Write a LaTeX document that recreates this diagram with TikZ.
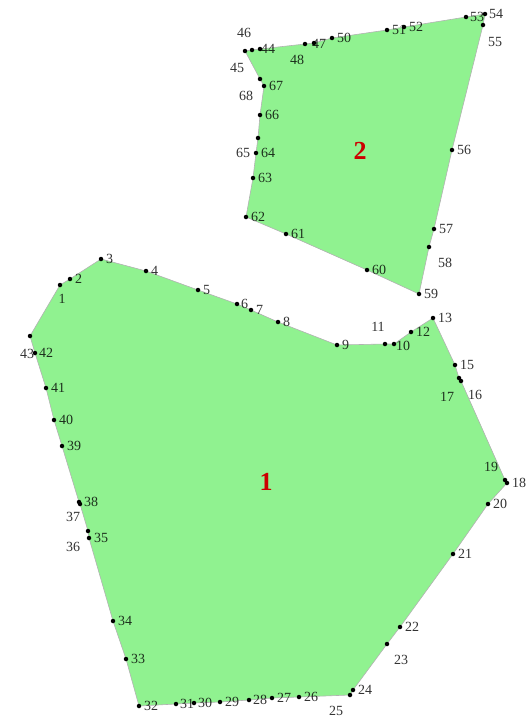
\documentclass[tikz,border=0pt]{standalone}
\usepackage{fontspec}
\setmainfont{Liberation Serif}
\usetikzlibrary{positioning,backgrounds}
\definecolor{parcel}{RGB}{144,242,144}
\definecolor{idred}{RGB}{204,0,0}

\begin{document}
\begin{tikzpicture}[x=1pt,y=-1pt,font=\fontsize{14}{16}\selectfont,
vtx/.style={circle,fill=black,inner sep=0pt,minimum size=4.5pt},
lbl/.style={inner sep=0.5pt,text=black,text opacity=0.8},
lot/.style={fill=parcel,draw=gray!60,line width=0.6pt},
lotid/.style={text=idred,font=\fontsize{26}{28}\selectfont\bfseries}]
\useasboundingbox (0,0) rectangle (531,720);
% parcel 1
\node[vtx] (p1) at (60,285) {};  \node[lbl] (t1) at (62,299) {1};
\node[vtx] (p2) at (70,279) {};  \node[lbl,right=2pt of p2] (t2) {2};
\node[vtx] (p3) at (101,259) {}; \node[lbl,right=2pt of p3] (t3) {3};
\node[vtx] (p4) at (146,271) {}; \node[lbl,right=2pt of p4] (t4) {4};
\node[vtx] (p5) at (198,290) {}; \node[lbl,right=2pt of p5] (t5) {5};
\node[vtx] (p6) at (237,304) {}; \node[lbl,right=1pt of p6] (t6) {6};
\node[vtx] (p7) at (251,310) {}; \node[lbl,right=2pt of p7] (t7) {7};
\node[vtx] (p8) at (278,322) {}; \node[lbl,right=2pt of p8] (t8) {8};
\node[vtx] (p9) at (337,345) {}; \node[lbl,right=2pt of p9] (t9) {9};
\node[vtx] (p10) at (394,344) {}; \node[lbl] (t10) at (403,346) {10};
\node[vtx] (p11) at (385,344) {}; \node[lbl] (t11) at (378,327) {11};
\node[vtx] (p12) at (411,332) {}; \node[lbl,right=2pt of p12] (t12) {12};
\node[vtx] (p13) at (433,318) {}; \node[lbl,right=2pt of p13] (t13) {13};
\node[vtx] (p15) at (455,365) {}; \node[lbl,right=2pt of p15] (t15) {15};
\node[vtx] (p16) at (461,381) {}; \node[lbl] (t16) at (475,395) {16};
\node[vtx] (p17) at (459,378) {}; \node[lbl] (t17) at (447,397) {17};
\node[vtx] (p18) at (507,483) {}; \node[lbl,right=2pt of p18] (t18) {18};
\node[vtx] (p19) at (505,480) {}; \node[lbl] (t19) at (491,467) {19};
\node[vtx] (p20) at (488,504) {}; \node[lbl,right=2pt of p20] (t20) {20};
\node[vtx] (p21) at (453,554) {}; \node[lbl,right=2pt of p21] (t21) {21};
\node[vtx] (p22) at (400,627) {}; \node[lbl,right=2pt of p22] (t22) {22};
\node[vtx] (p23) at (387,644) {}; \node[lbl] (t23) at (401,660) {23};
\node[vtx] (p24) at (353,690) {}; \node[lbl,right=2pt of p24] (t24) {24};
\node[vtx] (p25) at (350,695) {}; \node[lbl] (t25) at (336,711) {25};
\node[vtx] (p26) at (299,697) {}; \node[lbl,right=2pt of p26] (t26) {26};
\node[vtx] (p27) at (272,698) {}; \node[lbl,right=2pt of p27] (t27) {27};
\node[vtx] (p28) at (249,700) {}; \node[lbl,right=1pt of p28] (t28) {28};
\node[vtx] (p29) at (220,702) {}; \node[lbl,right=2pt of p29] (t29) {29};
\node[vtx] (p30) at (194,703) {}; \node[lbl,right=1pt of p30] (t30) {30};
\node[vtx] (p31) at (176,704) {}; \node[lbl,right=1pt of p31] (t31) {31};
\node[vtx] (p32) at (139,706) {}; \node[lbl,right=2pt of p32] (t32) {32};
\node[vtx] (p33) at (126,659) {}; \node[lbl,right=2pt of p33] (t33) {33};
\node[vtx] (p34) at (113,621) {}; \node[lbl,right=2pt of p34] (t34) {34};
\node[vtx] (p35) at (89,538) {};  \node[lbl,right=2pt of p35] (t35) {35};
\node[vtx] (p36) at (88,531) {};  \node[lbl] (t36) at (73,547) {36};
\node[vtx] (p37) at (80,504) {};  \node[lbl] (t37) at (73,517) {37};
\node[vtx] (p38) at (79,502) {};  \node[lbl,right=2pt of p38] (t38) {38};
\node[vtx] (p39) at (62,446) {};  \node[lbl,right=2pt of p39] (t39) {39};
\node[vtx] (p40) at (54,420) {};  \node[lbl,right=2pt of p40] (t40) {40};
\node[vtx] (p41) at (46,388) {};  \node[lbl,right=2pt of p41] (t41) {41};
\node[vtx] (p42) at (35,353) {};  \node[lbl,right=1pt of p42] (t42) {42};
\node[vtx] (p43) at (30,336) {};  \node[lbl] (t43) at (27,354) {43};
% parcel 2
\node[vtx] (p44) at (260,49) {};  \node[lbl] (t44) at (268,49) {44};
\node[vtx] (p45) at (245,51) {};  \node[lbl] (t45) at (237,68) {45};
\node[vtx] (p46) at (252,50) {};  \node[lbl] (t46) at (244,33) {46};
\node[vtx] (p47) at (314,43) {};  \node[lbl] (t47) at (319,44) {47};
\node[vtx] (p48) at (305,44) {};  \node[lbl] (t48) at (297,60) {48};
\node[vtx] (p50) at (332,38) {};  \node[lbl,right=2pt of p50] (t50) {50};
\node[vtx] (p51) at (387,30) {};  \node[lbl,right=2pt of p51] (t51) {51};
\node[vtx] (p52) at (404,27) {};  \node[lbl,right=2pt of p52] (t52) {52};
\node[vtx] (p53) at (466,17) {};  \node[lbl,right=1pt of p53] (t53) {53};
\node[vtx] (p54) at (485,14) {};  \node[lbl,right=1pt of p54] (t54) {54};
\node[vtx] (p55) at (483,25) {};  \node[lbl] (t55) at (495,42) {55};
\node[vtx] (p56) at (452,150) {}; \node[lbl,right=2pt of p56] (t56) {56};
\node[vtx] (p57) at (434,229) {}; \node[lbl,right=2pt of p57] (t57) {57};
\node[vtx] (p58) at (429,247) {}; \node[lbl] (t58) at (445,263) {58};
\node[vtx] (p59) at (419,294) {}; \node[lbl,right=2pt of p59] (t59) {59};
\node[vtx] (p60) at (367,270) {}; \node[lbl,right=2pt of p60] (t60) {60};
\node[vtx] (p61) at (286,234) {}; \node[lbl,right=2pt of p61] (t61) {61};
\node[vtx] (p62) at (246,217) {}; \node[lbl,right=2pt of p62] (t62) {62};
\node[vtx] (p63) at (253,178) {}; \node[lbl,right=2pt of p63] (t63) {63};
\node[vtx] (p64) at (256,153) {}; \node[lbl,right=2pt of p64] (t64) {64};
\node[vtx] (p65) at (258,138) {}; \node[lbl] (t65) at (243,153) {65};
\node[vtx] (p66) at (260,115) {}; \node[lbl,right=2pt of p66] (t66) {66};
\node[vtx] (p67) at (264,86) {};  \node[lbl,right=2pt of p67] (t67) {67};
\node[vtx] (p68) at (260,79) {};  \node[lbl] (t68) at (246,96) {68};
% parcel ids
\node[lotid] (id1) at (266,482) {1};
\node[lotid] (id2) at (360,151) {2};
\begin{scope}[on background layer]
\draw[lot] (p1.center)--(p2.center)--(p3.center)--(p4.center)--(p5.center)--(p6.center)--(p7.center)--(p8.center)--(p9.center)--(p11.center)--(p10.center)--(p12.center)--(p13.center)--(p15.center)--(p17.center)--(p16.center)--(p19.center)--(p18.center)--(p20.center)--(p21.center)--(p22.center)--(p23.center)--(p24.center)--(p25.center)--(p26.center)--(p27.center)--(p28.center)--(p29.center)--(p30.center)--(p31.center)--(p32.center)--(p33.center)--(p34.center)--(p35.center)--(p36.center)--(p37.center)--(p38.center)--(p39.center)--(p40.center)--(p41.center)--(p42.center)--(p43.center)--cycle;
\draw[lot] (p45.center)--(p46.center)--(p44.center)--(p48.center)--(p47.center)--(p50.center)--(p51.center)--(p52.center)--(p53.center)--(p54.center)--(p55.center)--(p56.center)--(p57.center)--(p58.center)--(p59.center)--(p60.center)--(p61.center)--(p62.center)--(p63.center)--(p64.center)--(p65.center)--(p66.center)--(p67.center)--(p68.center)--cycle;
\end{scope}
\end{tikzpicture}
\end{document}
